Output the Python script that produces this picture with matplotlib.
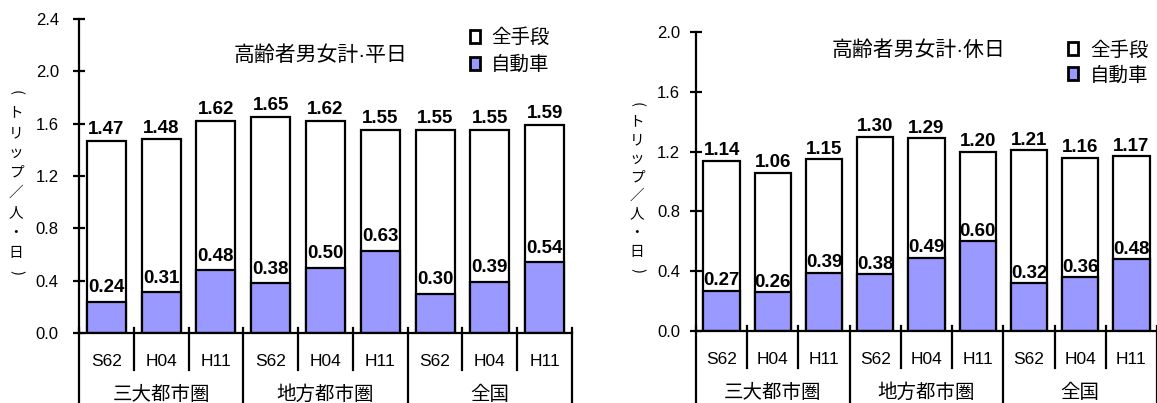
import numpy as np
import matplotlib.pyplot as plt

plt.rcParams.update({
    "font.family": ["Liberation Sans", "Noto Sans CJK JP"],
    "axes.linewidth": 1.6,
})

years = ["S62", "H04", "H11"] * 3
regions = ["三大都市圏", "地方都市圏", "全国"]
ylabel_chars = ["(", "ト", "リ", "ッ", "プ", "／", "人", "・", "日", ")"]

weekday_total = [1.47, 1.48, 1.62, 1.65, 1.62, 1.55, 1.55, 1.55, 1.59]
weekday_car = [0.24, 0.31, 0.48, 0.38, 0.50, 0.63, 0.30, 0.39, 0.54]
holiday_total = [1.14, 1.06, 1.15, 1.30, 1.29, 1.20, 1.21, 1.16, 1.17]
holiday_car = [0.27, 0.26, 0.39, 0.38, 0.49, 0.60, 0.32, 0.36, 0.48]

BLUE = "#9999ff"

fig = plt.figure(figsize=(11.57, 4.03), dpi=100)
W, H = 1157.0, 403.0


def panel(rect_px, title, total, car, ymax, yticks, title_pos, leg_pos,
          tot_off, car_off, tick_pad, ylab_x, ylab_y0, ylab_y1, leg_space):
    x0, x1, ytop, ybot = rect_px
    ax = fig.add_axes([x0 / W, 1 - ybot / H, (x1 - x0) / W, (ybot - ytop) / H])
    ah = ybot - ytop
    x = np.arange(len(total))

    b1 = ax.bar(x, total, width=0.71, color="white", edgecolor="black",
                linewidth=1.6, label="全手段", zorder=2)
    b2 = ax.bar(x, car, width=0.71, color=BLUE, edgecolor="black",
                linewidth=1.6, label="自動車", zorder=3)

    for xi, v in zip(x, total):
        ax.annotate(f"{v:.2f}", (xi, v), xytext=(0, tot_off), textcoords="offset points",
                    ha="center", va="bottom", fontsize=13.5, fontweight="bold", zorder=5)
    for xi, v in zip(x, car):
        ax.annotate(f"{v:.2f}", (xi, v), xytext=(0, car_off), textcoords="offset points",
                    ha="center", va="bottom", fontsize=13.5, fontweight="bold", zorder=5)

    ax.set_xlim(-0.5, len(total) - 0.5)
    ax.set_ylim(0, ymax)
    ax.set_yticks(yticks)
    ax.set_yticklabels([f"{t:.1f}" for t in yticks], fontsize=12)
    ax.tick_params(axis="y", direction="inout", length=9, width=1.6, pad=tick_pad)
    ax.set_xticks([])
    for s in ("top", "right"):
        ax.spines[s].set_visible(False)
    ax.spines["left"].set_zorder(4)
    ax.spines["bottom"].set_zorder(4)

    # category axis drawn underneath: year labels, region labels and dividers
    tr = ax.get_xaxis_transform()
    short = -37 / ah
    long_ = -(H - ybot) / ah
    up = 5 / ah
    for i in range(len(total) + 1):
        xb = i - 0.5
        y_end = long_ if i % 3 == 0 else short
        ax.plot([xb, xb], [up, y_end], color="black", lw=1.6, transform=tr,
                clip_on=False, zorder=4)
    for xi, lab in zip(x, years):
        ax.text(xi, -28 / ah, lab, transform=tr, ha="center", va="center", fontsize=12.5)
    for g, lab in enumerate(regions):
        ax.text(3 * g + 1, -62 / ah, lab, transform=tr, ha="center", va="center",
                fontsize=14)

    ax.text(title_pos[0], title_pos[1], title, transform=ax.transAxes,
            ha="center", va="center", fontsize=15)

    leg = ax.legend(handles=[b1, b2], loc="upper left", bbox_to_anchor=leg_pos,
                    frameon=False, fontsize=14, handlelength=0.5, handleheight=0.65,
                    handletextpad=0.6, labelspacing=leg_space, borderpad=0,
                    borderaxespad=0)
    for p in leg.get_patches():
        p.set_linewidth(2.0)

    # vertical unit label, one character per line
    ys = np.linspace(ylab_y0, ylab_y1, len(ylabel_chars))
    for ch, yy in zip(ylabel_chars, ys):
        rot = -90 if ch in "()" else 0
        fig.text(ylab_x / W, 1 - yy / H, ch, ha="center", va="center",
                 fontsize=10.5, rotation=rot, rotation_mode="anchor",
                 family="Noto Sans CJK JP")
    return ax


panel((79, 572, 19, 333), "高齢者男女計·平日", weekday_total, weekday_car, 2.4,
      [0.0, 0.4, 0.8, 1.2, 1.6, 2.0, 2.4], (0.489, 0.885), (0.793, 0.97),
      2, 4, 10, 16, 93, 273, 0.45)
panel((696, 1157, 32, 331), "高齢者男女計·休日", holiday_total, holiday_car, 2.0,
      [0.0, 0.4, 0.8, 1.2, 1.6, 2.0], (0.482, 0.94), (0.808, 0.97),
      1, 1, 7, 637, 104, 270, 0.35)

fig.savefig("out.png", dpi=100)
